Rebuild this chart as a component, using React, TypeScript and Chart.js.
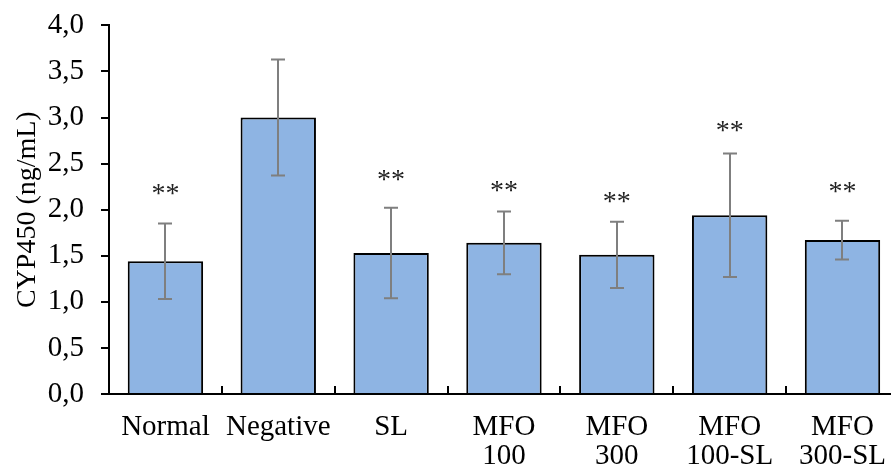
import React, { useEffect, useRef } from 'react';
import { Chart, registerables } from 'chart.js';

Chart.register(...registerables);

const categories: string[][] = [
  ['Normal'],
  ['Negative'],
  ['SL'],
  ['MFO', '100'],
  ['MFO', '300'],
  ['MFO', '100-SL'],
  ['MFO', '300-SL'],
];
const means: number[] = [1.44, 3.0, 1.53, 1.64, 1.51, 1.94, 1.67];
const sds: number[] = [0.41, 0.63, 0.49, 0.34, 0.36, 0.67, 0.21];
const starMarks: string[] = ['**', '', '**', '**', '**', '**', '**'];
const starLevels: (number | null)[] = [2.2, null, 2.35, 2.24, 2.12, 2.89, 2.22];
const yTitle = 'CYP450 (ng/mL)';

const FONT = '"Liberation Serif", "Times New Roman", serif';

const overlay = {
  id: 'overlay',
  afterDatasetsDraw(chart: any) {
    const ctx = chart.ctx;
    const xs = chart.scales.x;
    const ys = chart.scales.y;
    const meta = chart.getDatasetMeta(0);
    ctx.save();
    // inward category tick marks
    ctx.strokeStyle = '#000';
    ctx.lineWidth = 2;
    for (let i = 0; i < categories.length; i++) {
      const px = Math.round(xs.getPixelForValue(i + 0.5));
      ctx.beginPath();
      ctx.moveTo(px, ys.bottom);
      ctx.lineTo(px, ys.bottom - 8);
      ctx.stroke();
    }
    // error bars
    ctx.strokeStyle = '#7f7f7f';
    ctx.lineWidth = 2;
    const cap = 7;
    meta.data.forEach((bar: any, i: number) => {
      const cx = Math.round(bar.x);
      const t = ys.getPixelForValue(means[i] + sds[i]);
      const b = ys.getPixelForValue(means[i] - sds[i]);
      ctx.beginPath();
      ctx.moveTo(cx, t);
      ctx.lineTo(cx, b);
      ctx.moveTo(cx - cap, t);
      ctx.lineTo(cx + cap, t);
      ctx.moveTo(cx - cap, b);
      ctx.lineTo(cx + cap, b);
      ctx.stroke();
    });
    // significance marks
    ctx.font = `28px ${FONT}`;
    ctx.fillStyle = '#222';
    ctx.textAlign = 'center';
    ctx.textBaseline = 'alphabetic';
    meta.data.forEach((bar: any, i: number) => {
      const lv = starLevels[i];
      if (lv === null || !starMarks[i]) return;
      const cy = ys.getPixelForValue(lv);
      ctx.fillText(starMarks[i], bar.x, cy + 11);
    });
    ctx.restore();
  },
};

export default function App() {
  const ref = useRef<HTMLCanvasElement | null>(null);
  useEffect(() => {
    if (!ref.current) return;
    const chart = new Chart(ref.current, {
      type: 'bar',
      data: {
        labels: categories,
        datasets: [
          {
            data: means,
            backgroundColor: '#8EB4E3',
            borderColor: '#000',
            borderWidth: 2,
            borderSkipped: 'start',
            categoryPercentage: 1,
            barPercentage: 0.668,
          },
        ],
      },
      options: {
        responsive: false,
        animation: false,
        devicePixelRatio: 1,
        layout: { padding: { top: 15, left: 0, right: 0, bottom: 0 } },
        plugins: { legend: { display: false }, tooltip: { enabled: false } },
        scales: {
          x: {
            offset: true,
            grid: { display: false, drawTicks: false, tickLength: 0 },
            border: { display: true, color: '#000', width: 2 },
            ticks: {
              color: '#000',
              padding: 19,
              maxRotation: 0,
              autoSkip: false,
              font: { family: FONT, size: 29, lineHeight: 1.0 },
            },
            afterFit(scale: any) {
              scale.height = 78;
            },
          },
          y: {
            min: 0,
            max: 4,
            grid: {
              display: true,
              drawOnChartArea: false,
              drawTicks: true,
              tickLength: 8,
              color: '#000',
              lineWidth: 2,
            },
            border: { display: true, color: '#000', width: 2 },
            ticks: {
              stepSize: 0.5,
              color: '#000',
              padding: 17,
              font: { family: FONT, size: 29 },
              callback: (v: any) => Number(v).toFixed(1).replace('.', ','),
            },
            title: {
              display: true,
              text: yTitle,
              color: '#000',
              font: { family: FONT, size: 28, lineHeight: 1.2 },
              padding: { top: 11, bottom: 0 },
            },
            afterFit(scale: any) {
              scale.width = 109;
            },
          },
        },
      },
      plugins: [overlay],
    });
    return () => chart.destroy();
  }, []);
  return (
    <div
      style={{
        position: 'fixed',
        left: 0,
        top: 0,
        width: 891,
        height: 472,
        overflow: 'hidden',
        background: '#fff',
      }}
    >
      <canvas
        ref={ref}
        width={905}
        height={481}
        style={{ display: 'block', position: 'absolute', left: 0, top: -9 }}
      />
    </div>
  );
}
